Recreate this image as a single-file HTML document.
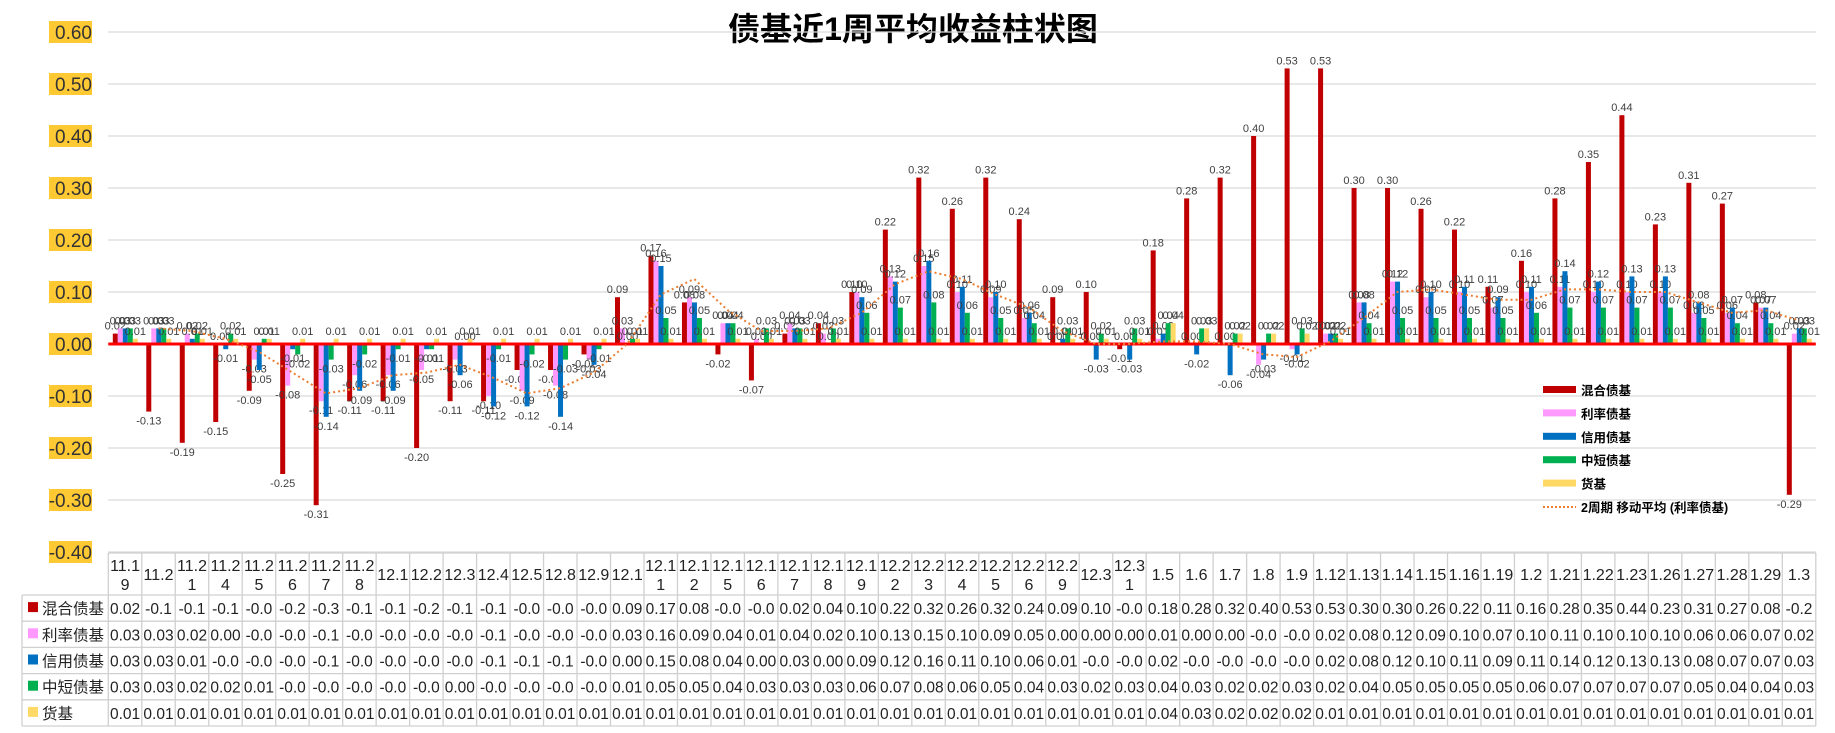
<!DOCTYPE html>
<html><head><meta charset="utf-8"><style>
body{margin:0;background:#fff;}
svg{display:block;font-family:"Liberation Sans","Noto Sans CJK SC",sans-serif;}
</style></head><body>
<svg id="c" width="1835" height="733" xmlns="http://www.w3.org/2000/svg">
<text x="913" y="40" text-anchor="middle" font-size="32" font-weight="bold" fill="#000" style='font-family:"Liberation Sans","Noto Sans CJK SC",sans-serif'>债基近1周平均收益柱状图</text>
</svg>
<script>
const categories=["11.19","11.2","11.21","11.24","11.25","11.26","11.27","11.28","12.1","12.2","12.3","12.4","12.5","12.8","12.9","12.1","12.11","12.12","12.15","12.16","12.17","12.18","12.19","12.22","12.23","12.24","12.25","12.26","12.29","12.3","12.31","1.5","1.6","1.7","1.8","1.9","1.12","1.13","1.14","1.15","1.16","1.19","1.2","1.21","1.22","1.23","1.26","1.27","1.28","1.29","1.3"];
const mixed=[0.02,-0.13,-0.19,-0.15,-0.09,-0.25,-0.31,-0.11,-0.11,-0.20,-0.11,-0.11,-0.05,-0.05,-0.02,0.09,0.17,0.08,-0.02,-0.07,0.02,0.04,0.10,0.22,0.32,0.26,0.32,0.24,0.09,0.10,-0.01,0.18,0.28,0.32,0.40,0.53,0.53,0.30,0.30,0.26,0.22,0.11,0.16,0.28,0.35,0.44,0.23,0.31,0.27,0.08,-0.29];
const rate=[0.03,0.03,0.02,0.00,-0.03,-0.08,-0.11,-0.06,-0.06,-0.05,-0.03,-0.10,-0.09,-0.08,-0.03,0.03,0.16,0.09,0.04,0.01,0.04,0.02,0.10,0.13,0.15,0.10,0.09,0.05,0.00,0.00,-0.00,0.01,0.00,-0.00,-0.04,-0.01,0.02,0.08,0.12,0.09,0.10,0.07,0.10,0.11,0.10,0.10,0.10,0.06,0.06,0.07,0.02];
const credit=[0.03,0.03,0.01,-0.01,-0.05,-0.01,-0.14,-0.09,-0.09,-0.01,-0.06,-0.12,-0.12,-0.14,-0.04,0.00,0.15,0.08,0.04,0.00,0.03,0.00,0.09,0.12,0.16,0.11,0.10,0.06,0.01,-0.03,-0.03,0.02,-0.02,-0.06,-0.03,-0.02,0.02,0.08,0.12,0.10,0.11,0.09,0.11,0.14,0.12,0.13,0.13,0.08,0.07,0.07,0.03];
const shortTerm=[0.03,0.03,0.02,0.02,0.01,-0.02,-0.03,-0.02,-0.01,-0.01,0.00,-0.01,-0.02,-0.03,-0.01,0.01,0.05,0.05,0.04,0.03,0.03,0.03,0.06,0.07,0.08,0.06,0.05,0.04,0.03,0.02,0.03,0.04,0.03,0.02,0.02,0.03,0.02,0.04,0.05,0.05,0.05,0.05,0.06,0.07,0.07,0.07,0.07,0.05,0.04,0.04,0.03];
const money=[0.01,0.01,0.01,0.01,0.01,0.01,0.01,0.01,0.01,0.01,0.01,0.01,0.01,0.01,0.01,0.01,0.01,0.01,0.01,0.01,0.01,0.01,0.01,0.01,0.01,0.01,0.01,0.01,0.01,0.01,0.01,0.04,0.03,0.02,0.02,0.02,0.01,0.01,0.01,0.01,0.01,0.01,0.01,0.01,0.01,0.01,0.01,0.01,0.01,0.01,0.01];
const seriesNames=["混合债基","利率债基","信用债基","中短债基","货基"];
const yTicks=[0.6,0.5,0.4,0.3,0.2,0.1,0,-0.1,-0.2,-0.3,-0.4];

const NS="http://www.w3.org/2000/svg";
const svg=document.getElementById('c');
const colors=["#C00000","#FF99FF","#0070C0","#00B050","#FFD966"];
const series=[mixed,rate,credit,shortTerm,money];
const X0=108.3,CW=33.48,Y0=344,PX=520;
const yS=v=>Y0-v*PX;
const xS=i=>X0+i*CW;
function el(t,a,p){const e=document.createElementNS(NS,t);for(const k in a)e.setAttribute(k,a[k]);(p||svg).appendChild(e);return e;}
function tx(x,y,s,a,p){const e=el('text',Object.assign({x:x,y:y},a),p);e.textContent=s;return e;}
// gridlines and y labels
yTicks.forEach(v=>{
  if(v!==0){const g=el('line',{x1:X0,x2:X0+51*CW,y1:yS(v),y2:yS(v),stroke:'#d9d9d9','stroke-width':1.3});
  
  }
  const lab=v.toFixed(2);
  const r=el('rect',{x:49,y:yS(v)-11,width:43,height:22,fill:'#FFC933'});
  
  
  const t=tx(92,yS(v)+7,lab,{'text-anchor':'end','font-size':19,fill:'#333'});
  
  
});
// bars
const BW=5,OFF=4.5;
series.forEach((s,si)=>{
  s.forEach((v,i)=>{
    const x=xS(i)+OFF+si*BW;
    const y1=yS(Math.max(v,0)),y2=yS(Math.min(v,0));
    const b=el('rect',{x:x,y:y1,width:BW,height:Math.max(y2-y1,0.01),fill:colors[si]});
    
    
    const ly=v>=0?y1-4:y2+13;
    const t=tx(x+BW/2,ly,v.toFixed(2),{'text-anchor':'middle','font-size':11,fill:'#404040'});
    
    
  });
});
// zero line
const z=el('line',{x1:X0,x2:X0+51*CW,y1:Y0,y2:Y0,stroke:'#FF0000','stroke-width':3});


// moving average
let pts=[];
for(let i=1;i<rate.length;i++){pts.push((xS(i)+CW/2)+','+yS((rate[i-1]+rate[i])/2));}
const ma=el('polyline',{points:pts.join(' '),fill:'none',stroke:'#ED7D31','stroke-width':2,'stroke-dasharray':'2,3'});


// legend
const legNames=seriesNames.concat(["2周期 移动平均 (利率债基)"]);
legNames.forEach((n,i)=>{
  const y=390+i*23.4;
  const g=el('g',{});
  
  
  if(i<5)el('rect',{x:1543,y:y-4,width:33,height:7,fill:colors[i]},g);
  else el('line',{x1:1543,x2:1576,y1:y,y2:y,stroke:'#ED7D31','stroke-width':2,'stroke-dasharray':'2,2'},g);
  tx(1581,y+5,n,{'font-size':12.5,'font-weight':'bold',fill:'#000'},g);
});
// table
const TT=553,HB=595,RH=26.2,TR=X0+51*CW;
const tg=el('g',{stroke:'#d0d0d0','stroke-width':1.3});


el('line',{x1:X0,x2:TR,y1:TT,y2:TT},tg);
for(let r=0;r<=5;r++)el('line',{x1:22,x2:TR,y1:HB+r*RH,y2:HB+r*RH},tg);
for(let i=0;i<=51;i++)el('line',{x1:xS(i),x2:xS(i),y1:TT,y2:HB+5*RH},tg);
el('line',{x1:22,x2:22,y1:HB,y2:HB+5*RH},tg);
categories.forEach((c,i)=>{
  const cx=xS(i)+CW/2;
  if(c.length>4){
    const t1=tx(cx,TT+18,c.slice(0,4),{'text-anchor':'middle','font-size':16,fill:'#222'});
    
    
    const t2=tx(cx,TT+37,c.slice(4),{'text-anchor':'middle','font-size':16,fill:'#222'});
    
    
  }else{
    const t=tx(cx,TT+27,c,{'text-anchor':'middle','font-size':16,fill:'#222'});
    
    
  }
});
series.forEach((s,si)=>{
  const y=HB+si*RH+RH/2+6;
  const sw=el('rect',{x:28,y:y-12,width:10,height:10,fill:colors[si]});
  
  
  const n=tx(42,y,seriesNames[si],{'font-size':15.5,fill:'#222'});
  
  
  s.forEach((v,i)=>{
    let str=v.toFixed(2);if(str.length>4)str=str.slice(0,4);
    const t=tx(xS(i)+CW/2,y,str,{'text-anchor':'middle','font-size':15.5,fill:'#222'});
    
    
  });
});
</script>
</body></html>
